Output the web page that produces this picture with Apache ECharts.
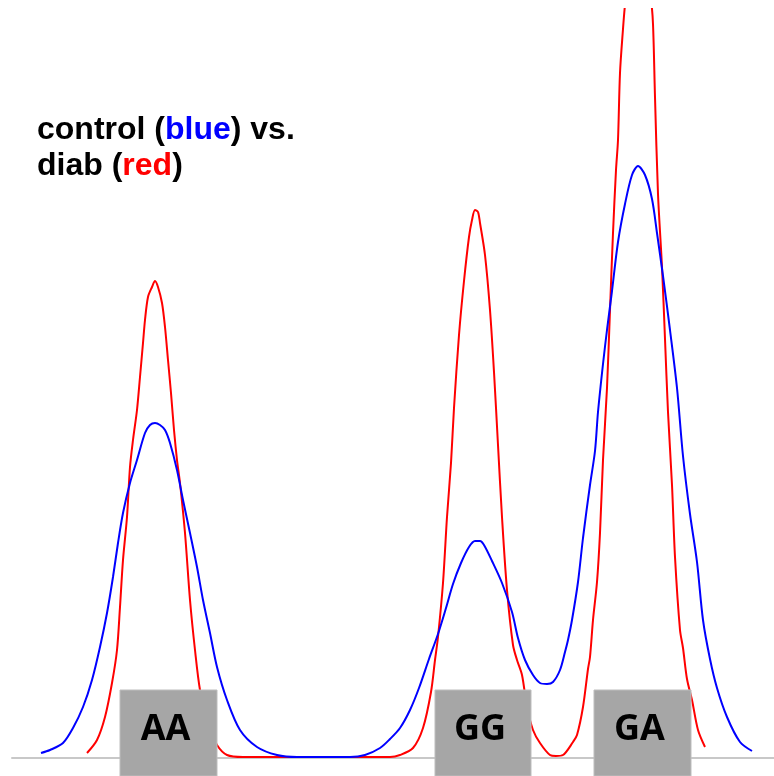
<!DOCTYPE html>
<html>
<head>
<meta charset="utf-8">
<script src="https://cdn.jsdelivr.net/npm/echarts@6/dist/echarts.min.js"></script>
<style>
  html, body { margin: 0; padding: 0; background: #ffffff; }
  #chart { width: 774px; height: 776px; }
</style>
</head>
<body>
<div id="chart"></div>
<script>
// Melting-curve style signal traces, [position, signal] pairs.
const controlTrace = [
  [41, 5], [50, 8], [63, 15], [73, 30], [83, 51], [92, 78], [100, 111], [107, 145],
  [113, 181], [118, 215], [123, 245], [130, 275], [137, 298], [145, 325], [150, 333],
  [155, 335], [160, 333], [165, 328], [170, 315], [177, 288], [183, 258], [190, 225],
  [197, 191], [203, 158], [210, 125], [217, 91], [227, 58], [240, 28], [257, 11],
  [277, 3], [297, 1], [320, 1], [350, 1], [365, 3], [380, 10], [390, 19], [400, 30],
  [410, 48], [419, 70], [429, 99], [438, 124], [446, 150], [453, 174], [461, 195],
  [469, 211], [475, 217], [480, 217], [484, 213], [492, 197], [502, 175], [512, 146],
  [518, 120], [525, 98], [533, 83], [540, 75], [547, 74], [553, 76], [560, 88],
  [565, 106], [568, 118], [572, 138], [578, 176], [583, 220], [590, 273], [595, 307],
  [598, 346], [603, 394], [607, 428], [612, 467], [618, 516], [625, 554], [632, 583],
  [638, 592], [645, 583], [652, 559], [657, 525], [663, 482], [670, 428], [677, 370],
  [683, 302], [690, 244], [697, 196], [703, 138], [710, 99], [717, 70], [727, 41],
  [740, 16], [752, 7]
];
const diabTrace = [
  [87, 5], [97, 18], [105, 41], [112, 75], [117, 108], [120, 151], [123, 198],
  [127, 241], [130, 291], [133, 318], [137, 348], [140, 381], [143, 415], [145, 438],
  [148, 461], [152, 471], [155, 477], [158, 471], [162, 455], [165, 431], [168, 398],
  [171, 365], [174, 328], [177, 298], [180, 275], [185, 225], [190, 158], [195, 108],
  [200, 68], [208, 33], [217, 13], [227, 3], [243, 1], [300, 1], [390, 1], [400, 3],
  [413, 10], [423, 30], [431, 66], [435, 98], [438, 121], [443, 175], [447, 241],
  [451, 295], [454, 350], [459, 423], [464, 477], [469, 521], [472, 538], [475, 548],
  [478, 546], [480, 535], [485, 503], [490, 448], [494, 386], [498, 313], [502, 241],
  [507, 168], [513, 113], [517, 98], [522, 83], [527, 51], [533, 28], [540, 15],
  [550, 3], [556, 2], [563, 3], [573, 16], [577, 23], [583, 51], [588, 89], [590, 101],
  [593, 138], [597, 176], [600, 225], [603, 298], [607, 370], [610, 448], [613, 525],
  [616, 588], [618, 618], [620, 685], [623, 729], [625, 753], [630, 793], [637, 808],
  [645, 793], [651, 758], [653, 734], [655, 661], [658, 564], [662, 491], [665, 419],
  [668, 346], [672, 273], [675, 201], [680, 128], [683, 110], [687, 79], [692, 58],
  [698, 28], [705, 11]
];
// Genotype bins along the position axis
const genotypeLabels = ['AA', 'GG', 'GA'];
const genotypeFrom = [120, 435, 594];
const genotypeTo = [217, 531, 691];
const genotypeHeight = 68;

const xRange = [12, 774];
const yRange = [-18, 749];

const chart = echarts.init(document.getElementById('chart'), null, { renderer: 'canvas' });

const genotypeData = genotypeLabels.map((g, i) => [genotypeFrom[i], genotypeTo[i], genotypeHeight, g]);

const textBase = { fontFamily: 'Liberation Sans', fontWeight: 'bold', fontSize: 32, lineHeight: 36 };

chart.setOption({
  animation: false,
  backgroundColor: '#ffffff',
  title: {
    left: 37,
    top: 112,
    padding: 0,
    text: '{k|control (}{b|blue}{k|) vs.}\n{k|diab (}{r|red}{k|)}',
    textStyle: {
      rich: {
        k: Object.assign({ color: '#000000' }, textBase),
        b: Object.assign({ color: '#0000ff' }, textBase),
        r: Object.assign({ color: '#ff0000' }, textBase)
      }
    }
  },
  grid: { left: 12, right: 0, top: 9, bottom: 0, containLabel: false },
  xAxis: {
    type: 'value',
    min: xRange[0],
    max: xRange[1],
    axisLine: { show: true, onZero: true, lineStyle: { color: '#c8c8c8', width: 2 } },
    axisTick: { show: false },
    axisLabel: { show: false },
    splitLine: { show: false }
  },
  yAxis: {
    type: 'value',
    min: yRange[0],
    max: yRange[1],
    axisLine: { show: false },
    axisTick: { show: false },
    axisLabel: { show: false },
    splitLine: { show: false }
  },
  series: [
    {
      name: 'diab',
      type: 'line',
      data: diabTrace,
      showSymbol: false,
      smooth: 0.3,
      clip: true,
      z: 2,
      lineStyle: { color: '#ff0000', width: 2 }
    },
    {
      name: 'control',
      type: 'line',
      data: controlTrace,
      showSymbol: false,
      smooth: 0.3,
      clip: true,
      z: 3,
      lineStyle: { color: '#0000ff', width: 2 }
    },
    {
      name: 'genotype',
      type: 'custom',
      z: 5,
      data: genotypeData,
      renderItem: function (params, api) {
        const x0 = api.value(0);
        const x1 = api.value(1);
        const top = api.coord([x0, api.value(2)]);
        const bottom = api.coord([x1, yRange[0]]);
        const label = genotypeLabels[params.dataIndex];
        return {
          type: 'group',
          children: [
            {
              type: 'rect',
              shape: { x: top[0], y: top[1], width: bottom[0] - top[0], height: bottom[1] - top[1] },
              style: { fill: '#a6a6a6', stroke: '#bdbdbd', lineWidth: 1 }
            },
            {
              type: 'text',
              x: (top[0] + bottom[0]) / 2 - 3,
              y: top[1] + 40,
              style: {
                text: label,
                fill: '#000000',
                font: 'bold 36px "Open Sans"',
                align: 'center',
                verticalAlign: 'middle'
              }
            }
          ]
        };
      }
    }
  ]
});
</script>
</body>
</html>
